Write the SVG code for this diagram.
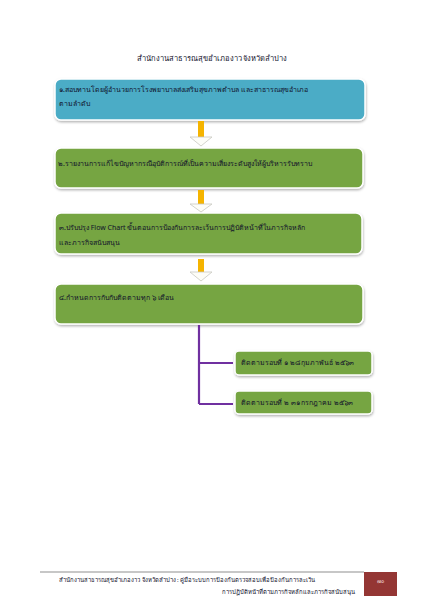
<svg xmlns="http://www.w3.org/2000/svg" width="424" height="600" viewBox="0 0 424 600">
<defs>
<filter id="sh" x="-10%" y="-20%" width="120%" height="150%">
<feDropShadow dx="0.5" dy="1.5" stdDeviation="1" flood-color="#000" flood-opacity="0.3"/>
</filter>
</defs>
<style>
text{font-family:"Noto Sans","Liberation Sans",sans-serif;fill:#10102a;}
.t{font-size:7px;}
.b{stroke:#fff;stroke-width:1.5;filter:url(#sh);}
.blue{fill:#4bacc6;}
.green{fill:#76a543;}
.bar{fill:#f5b400;}
.head{fill:#fdfdf8;stroke:#c8c8c0;stroke-width:0.8;}
.ft{font-size:5.9px;}
</style>
<rect width="424" height="600" fill="#fff"/>
<text x="212" y="61" text-anchor="middle" style="font-size:7.5px">สำนักงานสาธารณสุขอำเภองาว จังหวัดลำปาง</text>

<g id="node1">
<rect class="b blue" x="55" y="79" width="310" height="41" rx="6"/>
<text class="t" x="59" y="92">๑.สอบทานโดยผู้อำนวยการโรงพยาบาลส่งเสริมสุขภาพตำบล และสาธารณสุขอำเภอ</text>
<text class="t" x="59" y="106">ตามลำดับ</text>
</g>
<g id="node2">
<rect class="b green" x="55" y="148" width="308" height="40" rx="6"/>
<text class="t" x="58" y="166">๒.รายงานการแก้ไขปัญหากรณีอุบัติการณ์ที่เป็นความเสี่ยงระดับสูงให้ผู้บริหารรับทราบ</text>
</g>
<g id="node3">
<rect class="b green" x="55" y="213" width="307" height="41" rx="6"/>
<text class="t" x="59" y="230">๓.ปรับปรุง Flow Chart ขั้นตอนการป้องกันการละเว้นการปฏิบัติหน้าที่ในภารกิจหลัก</text>
<text class="t" x="59" y="245">และภารกิจสนับสนุน</text>
</g>
<g id="node4">
<rect class="b green" x="55" y="284" width="308" height="40" rx="6"/>
<text class="t" x="59" y="300">๔.กำหนดการกับกับติดตามทุก  ๖ เดือน</text>
</g>
<g id="node5">
<rect class="b green" x="235" y="351" width="137" height="24" rx="4"/>
<text class="t" x="241" y="365">ติดตามรอบที่ ๑ ๒๘ กุมภาพันธ์ ๒๕๖๓</text>
</g>
<g id="node6">
<rect class="b green" x="235" y="391" width="137" height="23" rx="4"/>
<text class="t" x="241" y="405">ติดตามรอบที่ ๒ ๓๑ กรกฎาคม ๒๕๖๓</text>
</g>

<g id="connectors">
<rect class="bar" x="198" y="121" width="6" height="17"/>
<path class="head" d="M190 137 L212 137 L201 146 Z"/>
<rect class="bar" x="198" y="190" width="6" height="15"/>
<path class="head" d="M190 204 L212 204 L201 212 Z"/>
<rect class="bar" x="198" y="259" width="6" height="14"/>
<path class="head" d="M190 272 L212 272 L201 281 Z"/>
<path d="M199 325 V404 M199 363 H233 M199 404 H233" fill="none" stroke="#7030a0" stroke-width="2.2"/>
</g>

<g id="footer">
<line x1="40" y1="572" x2="364" y2="572" stroke="#444" stroke-width="0.6"/>
<rect x="364" y="572" width="33" height="24" fill="#943634"/>
<text x="380.5" y="583" text-anchor="middle" style="font-size:5.5px;fill:#f2dcdb">๗๐</text>
<text class="ft" x="59" y="582">สำนักงานสาธารณสุขอำเภองาว จังหวัดลำปาง : คู่มือระบบการป้องกันตรวจสอบเพื่อป้องกันการละเว้น</text>
<text class="ft" x="222" y="594">การปฏิบัติหน้าที่ตามภารกิจหลักและภารกิจสนับสนุน</text>
</g>
</svg>
